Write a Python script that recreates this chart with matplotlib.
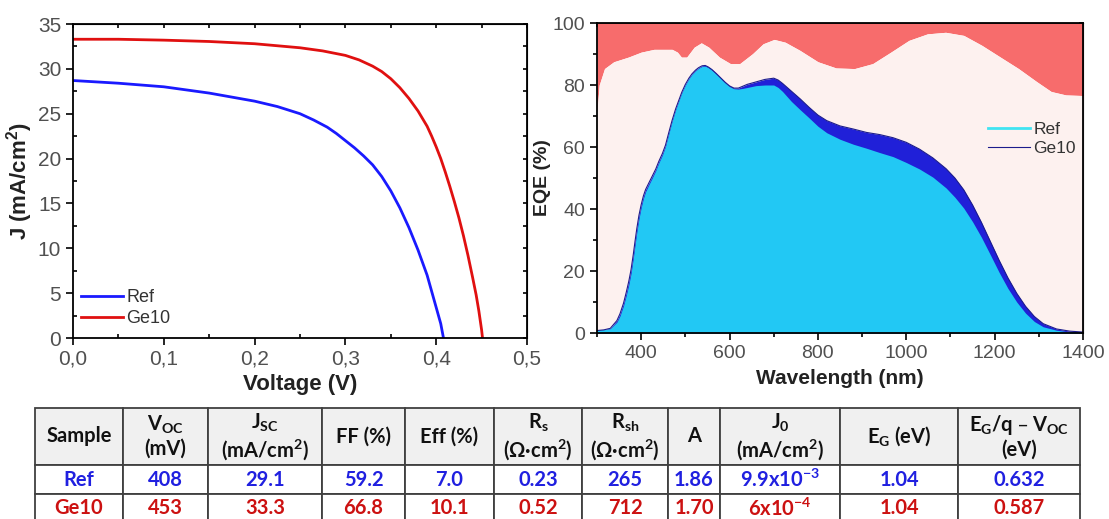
import numpy as np
import matplotlib.pyplot as plt
from matplotlib.ticker import MultipleLocator, FuncFormatter

plt.rcParams['font.family'] = ['Liberation Sans', 'DejaVu Sans']
plt.rcParams['mathtext.default'] = 'regular'

# J-V curves
v_ref = [0, 0.05, 0.1, 0.15, 0.2, 0.225, 0.25, 0.265, 0.28, 0.29, 0.3, 0.31, 0.32,
         0.33, 0.34, 0.35, 0.36, 0.37, 0.38, 0.39, 0.4, 0.405, 0.408]
j_ref = [28.7, 28.4, 28.0, 27.3, 26.4, 25.8, 25.0, 24.3, 23.5, 22.8, 22.0, 21.2, 20.3,
         19.3, 18.0, 16.4, 14.5, 12.3, 9.8, 7.0, 3.4, 1.6, 0.0]
v_ge = [0, 0.05, 0.1, 0.15, 0.2, 0.25, 0.275, 0.3, 0.315, 0.33, 0.34, 0.35, 0.36,
        0.37, 0.38, 0.39, 0.395, 0.4, 0.405, 0.41, 0.415, 0.42, 0.425, 0.43,
        0.435, 0.44, 0.444, 0.447, 0.45, 0.451]
j_ge = [33.3, 33.3, 33.2, 33.05, 32.8, 32.35, 32.0, 31.5, 31.0, 30.3, 29.7, 28.9, 27.9,
        26.7, 25.3, 23.6, 22.5, 21.3, 20.0, 18.5, 16.9, 15.2, 13.4, 11.4,
        9.2, 6.8, 4.8, 3.0, 0.9, 0.0]

# EQE: 1-R boundary
wl_r = [300, 305, 317, 338, 371, 400, 429, 470, 482, 491, 503, 520, 536, 553, 577,
        602, 623, 652, 676, 701, 726, 759, 800, 841, 883, 924, 965, 1006, 1048,
        1089, 1130, 1171, 1213, 1254, 1295, 1328, 1361, 1400]
abs_r = [71.5, 80.0, 85.3, 87.5, 89.0, 90.6, 91.5, 91.5, 90.6, 89.0, 89.0, 92.2,
         93.6, 92.2, 89.0, 86.9, 86.9, 90.1, 93.3, 94.7, 93.8, 91.2, 87.5, 85.5,
         85.3, 86.9, 90.6, 94.4, 96.5, 97.0, 96.0, 92.8, 89.0, 85.3, 81.1, 77.9,
         76.8, 76.6]

wl = [300, 315, 330, 345, 352, 360, 366, 372, 377, 382, 386, 390, 395, 400, 405,
      410, 418, 425, 433, 440, 448, 455, 462, 470, 478, 485, 492, 500, 508, 515,
      523, 530, 538, 545, 552, 560, 570, 580, 590, 600, 610, 620, 630, 640, 660,
      680, 700, 710, 720, 740, 760, 780, 800, 820, 850, 880, 910, 940, 970, 1000,
      1030, 1060, 1090, 1110, 1130, 1150, 1170, 1190, 1210, 1230, 1250, 1270, 1290,
      1310, 1340, 1370, 1400]
eqe_ref = [1.0, 1.1, 1.4, 3.5, 5.5, 8.8, 12.0, 15.6, 19.2, 24.0, 28.3, 32.4, 36.9,
           40.5, 43.4, 45.6, 48.0, 50.0, 52.4, 54.9, 57.4, 60.2, 64.0, 68.3, 72.0,
           74.8, 77.5, 80.0, 82.0, 83.4, 84.6, 85.4, 86.0, 86.1, 85.6, 84.8, 83.5,
           82.1, 80.7, 79.5, 78.8, 78.7, 78.9, 79.2, 79.8, 80.0, 80.0, 79.2, 77.9,
           74.7, 72.0, 69.4, 66.7, 64.6, 62.5, 60.9, 59.6, 58.2, 56.9, 55.0, 52.9,
           50.3, 46.8, 43.8, 40.3, 35.9, 30.9, 25.3, 19.6, 14.4, 10.0, 6.4, 3.7,
           2.0, 0.9, 0.3, 0.2]
eqe_ge = [0.8, 1.0, 1.5, 4.0, 6.2, 9.6, 13.0, 16.7, 20.4, 25.2, 29.5, 33.6, 38.0,
          41.4, 44.2, 46.3, 48.6, 50.6, 52.9, 55.4, 57.9, 60.6, 64.4, 68.6, 72.3,
          75.0, 77.7, 80.2, 82.2, 83.6, 84.8, 85.6, 86.2, 86.3, 85.8, 85.0, 83.7,
          82.3, 80.9, 79.7, 79.0, 79.0, 79.6, 80.2, 81.0, 81.8, 82.2, 81.6, 80.5,
          78.0, 75.5, 72.8, 70.3, 68.5, 66.8, 65.8, 64.7, 64.0, 63.0, 61.5, 59.3,
          56.5, 53.0, 50.0, 46.2, 41.3, 35.7, 29.6, 23.5, 17.8, 12.8, 8.6, 5.3,
          3.0, 1.3, 0.6, 0.3]

# table
header = ['Sample', 'V$_{OC}$\n(mV)', 'J$_{SC}$\n(mA/cm$^2$)', 'FF (%)', 'Eff (%)',
          'R$_s$\n(Ω·cm$^2$)', 'R$_{sh}$\n(Ω·cm$^2$)', 'A', 'J$_0$\n(mA/cm$^2$)',
          'E$_G$ (eV)', 'E$_G$/q – V$_{OC}$\n(eV)']
row_ref = ['Ref', '408', '29.1', '59.2', '7.0', '0.23', '265', '1.86',
           '9.9x10$^{-3}$', '1.04', '0.632']
row_ge = ['Ge10', '453', '33.3', '66.8', '10.1', '0.52', '712', '1.70',
          '6x10$^{-4}$', '1.04', '0.587']

tick_grey = '#505050'

fig = plt.figure(figsize=(11.09, 5.19), dpi=100)

# ---- left: J-V ----
ax1 = fig.add_axes([73/1109, 1-338/519, 454/1109, 314/519])
ax1.plot(v_ref, j_ref, color='#1a1aff', lw=2, label='Ref')
ax1.plot(v_ge, j_ge, color='#e01010', lw=2, label='Ge10')
ax1.set_xlim(0, 0.5)
ax1.set_ylim(0, 35)
ax1.xaxis.set_major_locator(MultipleLocator(0.1))
ax1.xaxis.set_minor_locator(MultipleLocator(0.05))
ax1.yaxis.set_major_locator(MultipleLocator(5))
ax1.yaxis.set_minor_locator(MultipleLocator(2.5))
ax1.xaxis.set_major_formatter(FuncFormatter(lambda v, p: f'{v:.1f}'.replace('.', ',')))
ax1.tick_params(which='major', direction='out', length=5, width=1.2,
                labelsize=15, labelcolor=tick_grey)
ax1.tick_params(which='minor', direction='in', length=3, width=1.2)
ax1.set_xlabel('Voltage (V)', fontsize=16, fontweight='bold', color='#222222', labelpad=4)
ax1.set_ylabel('J (mA/cm$^2$)', fontsize=16, fontweight='bold', color='#222222', labelpad=2)
ax1.legend(loc='lower left', bbox_to_anchor=(0.018, 0.035), frameon=False,
           fontsize=13, handlelength=2.3, handletextpad=0.2, labelspacing=0.2,
           borderpad=0, borderaxespad=0, labelcolor='#333333')

# ---- right: EQE ----
ax2 = fig.add_axes([597/1109, 1-333/519, 486/1109, 310/519])
ax2.fill_between(wl_r, abs_r, 100, color='#f76c6c', lw=0)
ax2.fill_between(wl_r, 0, abs_r, color='#fdf1ef', lw=0)
ax2.fill_between(wl, 0, eqe_ge, color='#2020d8', lw=0)
ax2.fill_between(wl, 0, eqe_ref, color='#22c8f4', lw=0)
ax2.plot([], [], color='#40e4f2', lw=2, label='Ref')
ax2.plot(wl, eqe_ge, color='#1c1c8c', lw=0.8, label='Ge10')
ax2.set_xlim(300, 1400)
ax2.set_ylim(0, 100)
ax2.xaxis.set_major_locator(MultipleLocator(200))
ax2.xaxis.set_minor_locator(MultipleLocator(100))
ax2.yaxis.set_major_locator(MultipleLocator(20))
ax2.yaxis.set_minor_locator(MultipleLocator(10))
ax2.tick_params(which='major', direction='out', length=5, width=1.2,
                labelsize=14, labelcolor=tick_grey)
ax2.tick_params(which='minor', direction='out', length=3, width=1.2)
ax2.set_xlabel('Wavelength (nm)', fontsize=15, fontweight='bold', color='#222222', labelpad=5)
ax2.set_ylabel('EQE (%)', fontsize=14, fontweight='bold', color='#222222', labelpad=1)
ax2.legend(loc='lower left', bbox_to_anchor=(0.805, 0.57), frameon=False,
           fontsize=12.5, handlelength=2.4, handletextpad=0.2, labelspacing=0.25,
           borderpad=0, borderaxespad=0, labelcolor='#333333')

for ax in (ax1, ax2):
    for s in ax.spines.values():
        s.set_linewidth(1.3)
    top = ax.secondary_xaxis('top')
    top.set_xticks(ax.get_xticks(minor=True), minor=True)
    top.set_xticks(ax.get_xticks())
    top.tick_params(which='both', direction='in', length=3, width=1.2, labeltop=False)
    right = ax.secondary_yaxis('right')
    right.set_yticks(ax.get_yticks(minor=True), minor=True)
    right.set_yticks(ax.get_yticks())
    right.tick_params(which='both', direction='in', length=3, width=1.2, labelright=False)

# ---- table ----
axt = fig.add_axes([0, 0, 1, 1])
axt.axis('off')
borders = [35, 123, 208, 322, 405, 494, 582, 668, 720, 840, 958, 1080]
col_w = np.diff(borders)
tbl = axt.table(cellText=[header, row_ref, row_ge], cellLoc='center',
                bbox=[35/1109, -4/519, (1080-35)/1109, 115/519])
tbl.auto_set_font_size(False)
row_h = [57, 29, 29]
row_col = ['#111111', '#2020e0', '#cc1111']
for (r, c), cell in tbl.get_celld().items():
    cell.set_width(col_w[c])
    cell.set_height(row_h[r])
    cell.set_edgecolor('#404040')
    cell.set_linewidth(1.3)
    cell.set_facecolor('#f0f0f0' if r == 0 else 'white')
    t = cell.get_text()
    t.set_fontfamily(['Lato', 'DejaVu Sans'])
    t.set_fontweight('bold')
    t.set_fontsize(14.5)
    t.set_color(row_col[r])
    t.set_linespacing(1.15)

fig.savefig('out.png', dpi=100, facecolor='white')
